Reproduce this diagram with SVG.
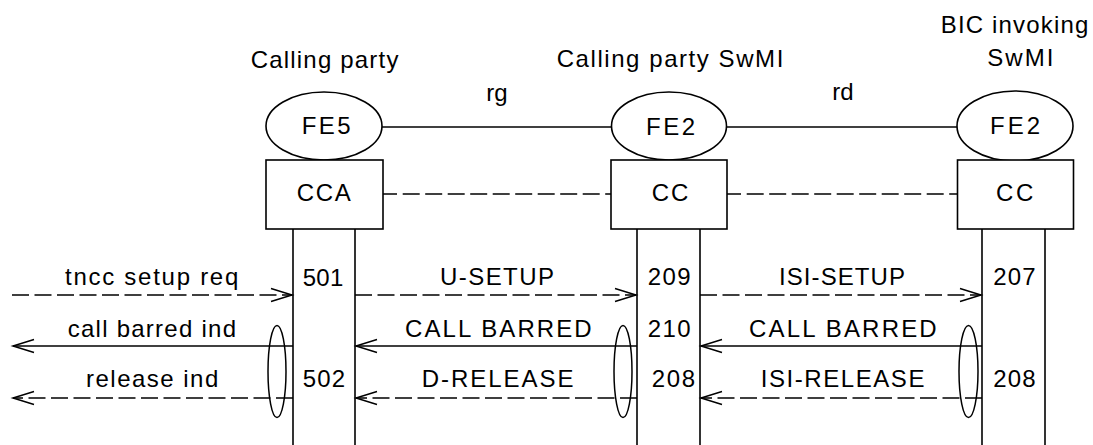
<svg xmlns="http://www.w3.org/2000/svg" width="1093" height="445" viewBox="0 0 1093 445">
<style>
  .t { font-family: "Liberation Sans", Arial, sans-serif; font-size: 24px; fill: #000; }
  .shape { fill: #fff; stroke: #000; stroke-width: 1.6; }
  .life { stroke: #000; stroke-width: 1.6; fill: none; }
  .link { stroke: #000; stroke-width: 1.5; fill: none; }
  .dash { stroke-dasharray: 17 5.5; }
  .grp { fill: none; stroke: #000; stroke-width: 1.5; }
</style>
<defs>
  <marker id="arr" markerUnits="userSpaceOnUse" markerWidth="30" markerHeight="20" viewBox="-25 -10 30 20" refX="0" refY="0" orient="auto">
    <path d="M -21 -6.5 L 0 0 L -21 6.5" fill="none" stroke="#000" stroke-width="1.5" stroke-dasharray="none"/>
  </marker>
</defs>
<rect width="1093" height="445" fill="#fff"/>

<g id="titles">
  <text class="t" x="250.7" y="68" textLength="147.7" lengthAdjust="spacing">Calling party</text>
  <text class="t" x="556.7" y="67" textLength="226.6" lengthAdjust="spacing">Calling party SwMI</text>
  <text class="t" x="940.7" y="33" textLength="147.6" lengthAdjust="spacing">BIC invoking</text>
  <text class="t" x="987.3" y="66" textLength="66" lengthAdjust="spacing">SwMI</text>
</g>

<g id="lifelines">
  <line class="life" x1="293" y1="229" x2="293" y2="445"/>
  <line class="life" x1="355" y1="229" x2="355" y2="445"/>
  <line class="life" x1="637" y1="229" x2="637" y2="445"/>
  <line class="life" x1="700" y1="229" x2="700" y2="445"/>
  <line class="life" x1="982" y1="229" x2="982" y2="445"/>
  <line class="life" x1="1045" y1="229" x2="1045" y2="445"/>
</g>

<g id="connectors">
  <line class="link" x1="382" y1="127" x2="611" y2="127"/>
  <line class="link" x1="727" y1="127" x2="957" y2="127"/>
  <line class="link" x1="383" y1="194" x2="397" y2="194"/>
  <line class="link dash" x1="402.7" y1="194" x2="611" y2="194"/>
  <line class="link" x1="727" y1="194" x2="741" y2="194"/>
  <line class="link dash" x1="746.7" y1="194" x2="957" y2="194"/>
  <text class="t" x="497" y="101" text-anchor="middle">rg</text>
  <text class="t" x="843" y="100" text-anchor="middle">rd</text>
</g>

<g id="fe5">
  <ellipse class="shape" cx="324" cy="126" rx="58" ry="34"/>
  <text class="t" x="301.7" y="134" textLength="49" lengthAdjust="spacing">FE5</text>
</g>
<g id="cca">
  <rect class="shape" x="266" y="160" width="117" height="69"/>
  <text class="t" x="296.7" y="201" textLength="54" lengthAdjust="spacing">CCA</text>
</g>
<g id="fe2-mid">
  <ellipse class="shape" cx="669" cy="126" rx="57.5" ry="34"/>
  <text class="t" x="646" y="134.5" textLength="49" lengthAdjust="spacing">FE2</text>
</g>
<g id="cc-mid">
  <rect class="shape" x="611" y="160" width="116" height="69"/>
  <text class="t" x="651.7" y="201" textLength="36.7" lengthAdjust="spacing">CC</text>
</g>
<g id="fe2-right">
  <ellipse class="shape" cx="1015" cy="126" rx="58" ry="35"/>
  <text class="t" x="990" y="134" textLength="50" lengthAdjust="spacing">FE2</text>
</g>
<g id="cc-right">
  <rect class="shape" x="957.5" y="160" width="116" height="69"/>
  <text class="t" x="996" y="200.5" textLength="37.3" lengthAdjust="spacing">CC</text>
</g>

<g id="messages">
  <line class="link dash" x1="12" y1="295" x2="292" y2="295" marker-end="url(#arr)"/>
  <line class="link dash" x1="355" y1="295" x2="636" y2="295" marker-end="url(#arr)"/>
  <line class="link dash" x1="700" y1="295" x2="981" y2="295" marker-end="url(#arr)"/>
  <line class="link" x1="293" y1="346" x2="13" y2="346" marker-end="url(#arr)"/>
  <line class="link" x1="637" y1="346" x2="356" y2="346" marker-end="url(#arr)"/>
  <line class="link" x1="982" y1="346" x2="701" y2="346" marker-end="url(#arr)"/>
  <line class="link dash" x1="293" y1="398" x2="13" y2="398" marker-end="url(#arr)"/>
  <line class="link dash" x1="637" y1="398" x2="356" y2="398" marker-end="url(#arr)"/>
  <line class="link dash" x1="982" y1="398" x2="701" y2="398" marker-end="url(#arr)"/>

  <text class="t" x="65" y="285" textLength="173.3" lengthAdjust="spacing">tncc setup req</text>
  <text class="t" x="67.7" y="336.5" textLength="168.3" lengthAdjust="spacing">call barred ind</text>
  <text class="t" x="86" y="387" textLength="132.3" lengthAdjust="spacing">release ind</text>
  <text class="t" x="440" y="285" textLength="114" lengthAdjust="spacing">U-SETUP</text>
  <text class="t" x="405" y="337" textLength="186.7" lengthAdjust="spacing">CALL BARRED</text>
  <text class="t" x="421.7" y="387" textLength="151.7" lengthAdjust="spacing">D-RELEASE</text>
  <text class="t" x="779" y="285" textLength="126" lengthAdjust="spacing">ISI-SETUP</text>
  <text class="t" x="749" y="337" textLength="187.7" lengthAdjust="spacing">CALL BARRED</text>
  <text class="t" x="760.7" y="387" textLength="163.7" lengthAdjust="spacing">ISI-RELEASE</text>
</g>

<g id="states">
  <text class="t" x="302.7" y="286" textLength="40.7" lengthAdjust="spacing">501</text>
  <text class="t" x="302.7" y="387" textLength="42.3" lengthAdjust="spacing">502</text>
  <text class="t" x="647.7" y="285" textLength="43" lengthAdjust="spacing">209</text>
  <text class="t" x="647.7" y="337" textLength="43" lengthAdjust="spacing">210</text>
  <text class="t" x="651.7" y="387" textLength="43.3" lengthAdjust="spacing">208</text>
  <text class="t" x="993.3" y="285" textLength="42.3" lengthAdjust="spacing">207</text>
  <text class="t" x="993.3" y="387" textLength="42.3" lengthAdjust="spacing">208</text>
</g>

<g id="groupings">
  <ellipse class="grp" cx="277" cy="371.5" rx="9" ry="46"/>
  <ellipse class="grp" cx="623" cy="371.5" rx="9" ry="46"/>
  <ellipse class="grp" cx="968.5" cy="371.5" rx="9.5" ry="46"/>
</g>
</svg>
